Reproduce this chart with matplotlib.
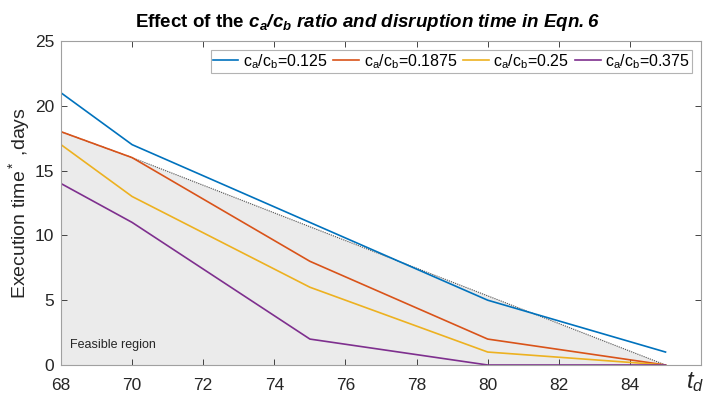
import matplotlib.pyplot as plt
import numpy as np

# disruption time t_d
t_d = [68, 70, 75, 80, 85]

# execution time for each c_a/c_b ratio
exec_0125 = [21, 17, 11, 5, 1]
exec_01875 = [18, 16, 8, 2, 0]
exec_025 = [17, 13, 6, 1, 0]
exec_0375 = [14, 11, 2, 0, 0]

# upper bound of the feasible region
bound_x = [68, 70, 85]
bound_y = [18, 16, 0]

ratios = ['0.125', '0.1875', '0.25', '0.375']
colors = ['#0072BD', '#D95319', '#EDB120', '#7E2F8E']

plt.rcParams['font.family'] = ['Liberation Sans', 'DejaVu Sans']
plt.rcParams['mathtext.fontset'] = 'custom'
plt.rcParams['mathtext.rm'] = 'Liberation Sans'
plt.rcParams['mathtext.it'] = 'Liberation Sans:italic'
plt.rcParams['mathtext.bf'] = 'Liberation Sans:bold:italic'

fig, ax = plt.subplots(figsize=(7.22, 3.94), dpi=100)
fig.subplots_adjust(left=0.0845, right=0.971, top=0.896, bottom=0.0736)

# feasible region
ax.fill_between(bound_x, bound_y, 0, color='#ebebeb', zorder=0)
ax.plot(bound_x, bound_y, color='#555555', lw=0.8, ls=(0, (1, 1)), zorder=1)

series = [exec_0125, exec_01875, exec_025, exec_0375]
for vals, r, c in zip(series, ratios, colors):
    ax.plot(t_d, vals, color=c, lw=1.2, label=r'$\mathrm{c_a/c_b}$=' + r)

ax.set_xlim(68, 86)
ax.set_ylim(0, 25)
ax.set_xticks(np.arange(68, 86, 2))
ax.set_yticks(np.arange(0, 26, 5))
ax.tick_params(direction='in', top=True, right=True, labelsize=12.5, colors='#262626',
               length=4, width=0.6)
ax.tick_params(axis='x', pad=9)
ax.tick_params(axis='y', pad=5)
for s in ax.spines.values():
    s.set_color('#a0a0a0')
    s.set_linewidth(0.8)

ax.set_ylabel(r'Execution time$^*$ ,days', fontsize=14, color='#262626', labelpad=2)
ax.set_xlabel(r'$t_d$', fontsize=17, color='#262626')
ax.xaxis.set_label_coords(0.99, -0.015)

ax.set_title(r'Effect of the $\mathbf{c_a/c_b\ ratio\ and\ disruption\ time\ in\ Eqn.6}$',
             fontsize=13.5, fontweight='bold', color='black', pad=10, x=0.478)

ax.text(68.25, 1.3, 'Feasible region', fontsize=9, color='#262626')

leg = ax.legend(loc='upper right', ncol=4, fontsize=11.5, frameon=True, fancybox=False,
                edgecolor='#a0a0a0', handlelength=1.6, handletextpad=0.3,
                columnspacing=0.35, borderpad=0.12, borderaxespad=0,
                bbox_to_anchor=(0.986, 0.972))
leg.get_frame().set_linewidth(0.8)

plt.savefig('out.png', dpi=100)
